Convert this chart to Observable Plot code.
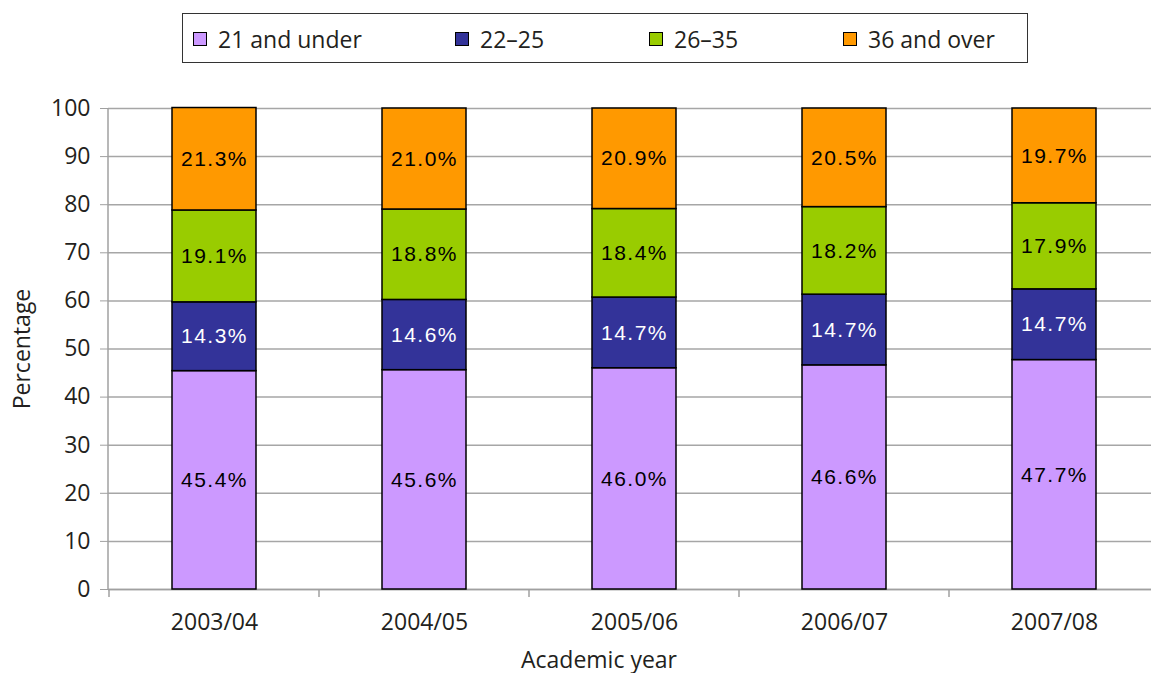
<!DOCTYPE html>
<html>
<head>
<meta charset="utf-8">
<script src="https://cdn.jsdelivr.net/npm/d3@7"></script>
<script src="https://cdn.jsdelivr.net/npm/@observablehq/plot@0.6"></script>
<style>
  html, body { margin: 0; padding: 0; background: #fff; overflow: hidden; }
  body { font-family: "Open Sans", sans-serif; color: #231f20; }
  #legend-wrap { position: relative; height: 70px; }
  #legend {
    position: absolute; left: 182px; top: 13px; width: 844px; height: 48px;
    border: 1.5px solid #333; box-sizing: content-box;
  }
  .item { position: absolute; top: 1px; height: 48px; display: flex; align-items: center; font-size: 23px; white-space: nowrap; }
  .swatch { width: 12px; height: 12px; border: 1.5px solid #000; margin-right: 11px; }
</style>
</head>
<body>
<div id="legend-wrap"><div id="legend"></div></div>
<div id="chart"></div>
<script>
// Share of students by age group, per academic year (percent)
const years = ["2003/04", "2004/05", "2005/06", "2006/07", "2007/08"];
const ageGroups = ["21 and under", "22–25", "26–35", "36 and over"];
const under21 = [45.4, 45.6, 46.0, 46.6, 47.7];
const age22to25 = [14.3, 14.6, 14.7, 14.7, 14.7];
const age26to35 = [19.1, 18.8, 18.4, 18.2, 17.9];
const over36 = [21.3, 21.0, 20.9, 20.5, 19.7];
const groupColors = ["#cc99ff", "#333399", "#99cc00", "#ff9900"];
const yTicks = [0, 10, 20, 30, 40, 50, 60, 70, 80, 90, 100];
const yTitle = "Percentage";
const xTitle = "Academic year";

const series = [under21, age22to25, age26to35, over36];
const rows = years.flatMap((year, i) =>
  ageGroups.map((group, j) => ({year, group, value: series[j][i]}))
);

// Legend row
const legendOffsets = [10, 272, 466, 660];
const legend = document.getElementById("legend");
ageGroups.forEach((g, i) => {
  const item = document.createElement("div");
  item.className = "item";
  item.style.left = legendOffsets[i] + "px";
  const sw = document.createElement("span");
  sw.className = "swatch";
  sw.style.background = groupColors[i];
  const label = document.createElement("span");
  label.textContent = g;
  item.append(sw, label);
  legend.append(item);
});

// Axis line on the left and category boundary ticks below the baseline
function frameTicks(index, scales, values, dimensions) {
  const {marginLeft, marginTop, marginBottom, height} = dimensions;
  const x = scales.x;
  const y0 = height - marginBottom;
  const g = d3.create("svg:g").attr("stroke", "#a0a0a0").attr("stroke-width", 1.5);
  g.append("line").attr("x1", marginLeft).attr("x2", marginLeft).attr("y1", marginTop).attr("y2", y0);
  const step = x.step();
  const gap = (step - x.bandwidth()) / 2;
  const bounds = [x(years[0]) - gap];
  years.forEach(yr => bounds.push(x(yr) + x.bandwidth() + gap));
  for (const b of bounds) {
    g.append("line").attr("x1", b).attr("x2", b).attr("y1", y0).attr("y2", y0 + 8);
  }
  return g.node();
}

const isNavy = d => d.group === "22–25";
const pct = d => d.value.toFixed(1) + "%";

const chart = Plot.plot({
  width: 1161,
  height: 603,
  marginTop: 38,
  marginBottom: 84,
  marginLeft: 108,
  marginRight: 0,
  style: {fontFamily: "Open Sans", fontSize: "23px", color: "#231f20", maxWidth: "none", overflow: "visible", background: "#fff"},
  x: {domain: years, paddingInner: 0.6, paddingOuter: 0.3, label: null},
  y: {domain: [0, 100], label: null},
  color: {domain: ageGroups, range: groupColors},
  marks: [
    Plot.gridY(yTicks, {stroke: "#a6a6a6", strokeOpacity: 1, strokeWidth: 1.5}),
    Plot.ruleY([0], {stroke: "#a0a0a0", strokeWidth: 1.5}),
    frameTicks,
    Plot.barY(rows, Plot.stackY({x: "year", y: "value", z: "group", fill: "group", stroke: "#000", strokeWidth: 1.5})),
    Plot.text(rows, Plot.filter(d => !isNavy(d), Plot.stackY({
      x: "year", y: "value", z: "group", text: pct,
      fill: "#000", fontFamily: "Liberation Sans", fontSize: 21
    }))),
    Plot.text(rows, Plot.filter(isNavy, Plot.stackY({
      x: "year", y: "value", z: "group", text: pct,
      fill: "#fff", fontFamily: "Liberation Sans", fontSize: 21
    }))),
    Plot.axisY(yTicks, {tickSize: 8, tickPadding: 10, stroke: "#a0a0a0", fill: "#231f20", label: null}),
    Plot.axisX({tickSize: 0, tickPadding: 24, fill: "#231f20", label: null}),
    Plot.text([yTitle], {frameAnchor: "left", textAnchor: "middle", rotate: -90, dx: -86, fill: "#231f20", fontSize: 23}),
    Plot.text([xTitle], {frameAnchor: "bottom", textAnchor: "middle", dx: -36, dy: 78, fill: "#231f20", fontSize: 23})
  ]
});

// Spaced digits inside the bars
chart.querySelectorAll('g[aria-label="text"]').forEach(g => {
  if (g.getAttribute("font-family") === "Liberation Sans") g.style.letterSpacing = "1.5px";
});
document.getElementById("chart").append(chart);
</script>
</body>
</html>
